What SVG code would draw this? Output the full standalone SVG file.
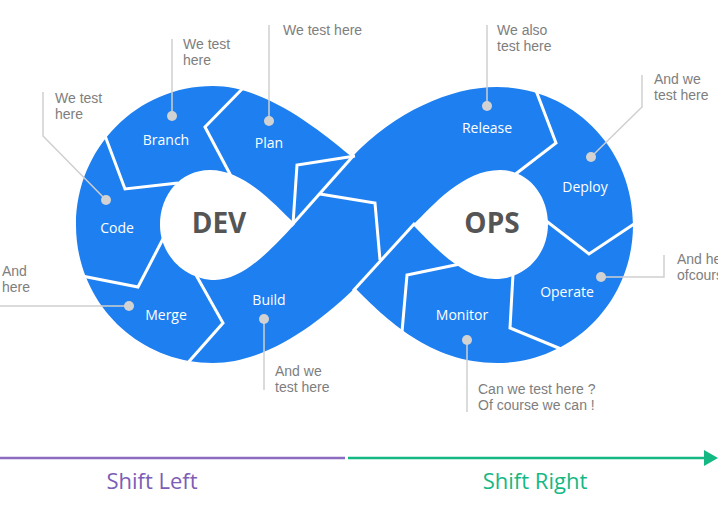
<svg xmlns="http://www.w3.org/2000/svg" width="718" height="518" viewBox="0 0 718 518">
<defs>
<style>
.band{fill:#1e7ff0;fill-rule:evenodd}
.sep{fill:none;stroke:#ffffff;stroke-width:3;stroke-linejoin:miter}
.lead{fill:none;stroke:#cfcfcf;stroke-width:1.5}
.dot{fill:#d2d2d2}
.lbl{font-family:"Open Sans","Liberation Sans",sans-serif;font-size:14px;fill:#ffffff;text-anchor:middle;font-weight:500}
.ann{font-family:"Liberation Sans",Arial,sans-serif;font-size:14px;fill:#7e7e7e;font-weight:400}
.big{font-family:"Open Sans","Liberation Sans",sans-serif;font-size:28px;fill:#555555;font-weight:700;text-anchor:middle}
.shift{font-family:"Open Sans","Liberation Sans",sans-serif;font-size:22px;text-anchor:middle}
</style>
</defs>
<rect width="718" height="518" fill="#ffffff"/>

<g id="infinity">
<path class="band" d="M 352,157 C 325,135 268,86 213,86 C 137,86 76,148 76,225 C 76,302 137,363 213,363 C 268,363 322,320 355,288 C 385,318 430,363 497,363 C 572,363 633,302 633,225 C 633,148 572,87 497,87 C 450,87 395,112 352,157 Z M 295,224 C 275,205 245,170 210,170 C 180,170 160,195 160,225 C 160,255 185,280 215,280 C 245,280 275,245 295,224 Z M 413,225 C 433,205 463,170 500,170 C 528,170 548,195 548,224 C 548,255 525,279 495,279 C 462,279 433,245 413,225 Z"/>
<g id="separators">
<polyline class="sep" points="247,84 205,127 231,176"/>
<polyline class="sep" points="104,133 125,189 178,183"/>
<polyline class="sep" points="82,276 138,287 165,235"/>
<polyline class="sep" points="196,275 223,323 185,366"/>
<polyline class="sep" points="355,156 297,165 293,224"/>
<polyline class="sep" points="291,226 354,155"/>
<polyline class="sep" points="320,194 375,203 380,260"/>
<polyline class="sep" points="353,291 415,223"/>
<polyline class="sep" points="460,264 407,275 402,332"/>
<polyline class="sep" points="535,88 556,143 513,176"/>
<polyline class="sep" points="545,220 589,254 637,222"/>
<polyline class="sep" points="513,274 510,328 561,349"/>
</g>
</g>

<g id="connectors">
<polyline class="lead" points="172,116 172,39"/>
<polyline class="lead" points="269,121 269,25"/>
<polyline class="lead" points="106,200 43,136 43,92"/>
<polyline class="lead" points="129,306 0,306"/>
<polyline class="lead" points="264,319 264,390"/>
<polyline class="lead" points="487,106 487,25"/>
<polyline class="lead" points="591,157 642,107 642,75"/>
<polyline class="lead" points="601,277 664,277 664,255"/>
<polyline class="lead" points="467,340 467,412"/>
</g>

<g id="node-branch">
<circle class="dot" cx="172" cy="116" r="5"/>
<text class="lbl" x="166" y="145">Branch</text>
<text class="ann" x="183" y="49">We test<tspan x="183" dy="16">here</tspan></text>
</g>
<g id="node-plan">
<circle class="dot" cx="269" cy="121" r="5"/>
<text class="lbl" x="269" y="148">Plan</text>
<text class="ann" x="283" y="35">We test here</text>
</g>
<g id="node-code">
<circle class="dot" cx="106" cy="200" r="5"/>
<text class="lbl" x="117" y="233">Code</text>
<text class="ann" x="55" y="103">We test<tspan x="55" dy="16">here</tspan></text>
</g>
<g id="node-merge">
<circle class="dot" cx="129" cy="306" r="5"/>
<text class="lbl" x="166" y="320">Merge</text>
<text class="ann" x="2" y="276">And<tspan x="2" dy="16">here</tspan></text>
</g>
<g id="node-build">
<circle class="dot" cx="264" cy="319" r="5"/>
<text class="lbl" x="269" y="305">Build</text>
<text class="ann" x="275" y="376">And we<tspan x="275" dy="16">test here</tspan></text>
</g>
<g id="node-dev">
<text class="big" x="219" y="233">DEV</text>
</g>
<g id="node-ops">
<text class="big" x="492" y="233">OPS</text>
</g>
<g id="node-release">
<circle class="dot" cx="487" cy="106" r="5"/>
<text class="lbl" x="487" y="133">Release</text>
<text class="ann" x="497" y="35">We also<tspan x="497" dy="16">test here</tspan></text>
</g>
<g id="node-deploy">
<circle class="dot" cx="591" cy="157" r="5"/>
<text class="lbl" x="585" y="192">Deploy</text>
<text class="ann" x="654" y="84">And we<tspan x="654" dy="16">test here</tspan></text>
</g>
<g id="node-operate">
<circle class="dot" cx="601" cy="277" r="5"/>
<text class="lbl" x="567" y="297">Operate</text>
<text class="ann" x="677" y="264">And here<tspan x="677" dy="16">ofcourse</tspan></text>
</g>
<g id="node-monitor">
<circle class="dot" cx="467" cy="340" r="5"/>
<text class="lbl" x="462" y="320">Monitor</text>
<text class="ann" x="478" y="394">Can we test here ?<tspan x="478" dy="16">Of course we can !</tspan></text>
</g>

<g id="shift">
<line x1="0" y1="458" x2="345" y2="458" stroke="#8b6cc0" stroke-width="2.5"/>
<line x1="348" y1="458" x2="706" y2="458" stroke="#13b883" stroke-width="2.5"/>
<polygon points="704,450 718,458 704,466" fill="#13b883"/>
<text class="shift" x="152" y="489" fill="#7d5db5">Shift Left</text>
<text class="shift" x="535" y="489" fill="#14b883">Shift Right</text>
</g>
</svg>
